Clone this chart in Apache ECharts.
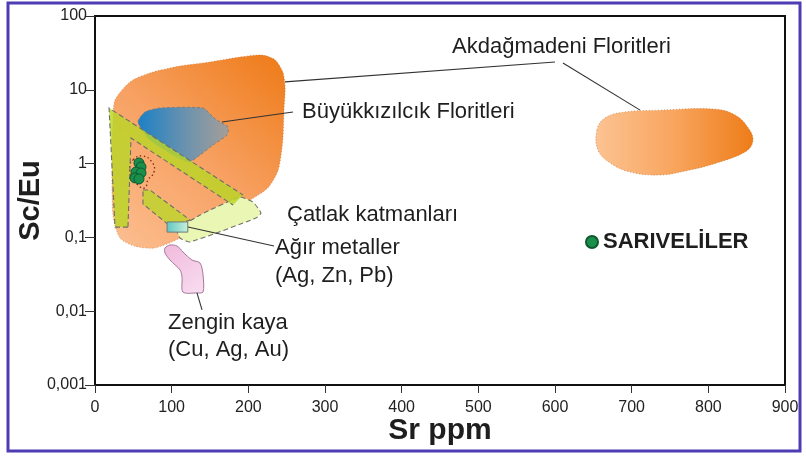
<!DOCTYPE html>
<html>
<head>
<meta charset="utf-8">
<script src="https://cdn.jsdelivr.net/npm/echarts@6/dist/echarts.min.js"></script>
<style>
  html, body { margin: 0; padding: 0; background: #ffffff; }
  #chart { width: 806px; height: 457px; }
</style>
</head>
<body>
<div id="chart"></div>
<script>
// Axis ticks
const xTicks = [0, 100, 200, 300, 400, 500, 600, 700, 800, 900];
const yTickLabels = ['0,001', '0,01', '0,1', '1', '10', '100'];

// Akdağmadeni fluorite fields (Sr ppm, Sc/Eu)
const akdagmadeniLow = [[26.1,7.27],[45.7,12.8],[71.7,16.9],[110.9,21.0],[150,23.8],[189,27.8],[218,29.6],[235,25.4],[245,17.4],[248,10.6],[246.5,5.3],[245,2.09],[239,0.82],[225.6,0.47],[202,0.32],[176,0.235],[143.5,0.162],[111,0.098],[78,0.072],[52,0.076],[32.6,0.098],[23.5,0.20],[22.2,1.12],[23.5,3.9]];
const akdagmadeniHigh = [[654.7,2.85],[665,4.15],[691,5.0],[737,5.3],[806,5.5],[835,4.56],[854,2.85],[858,1.96],[848,1.44],[811,1.02],[776,0.82],[737,0.70],[698,0.77],[672,1.02],[656,1.53]];

// Büyükkızılcık fluorite field
const buyukkizilcik = [[56.1,3.66],[65.2,5.0],[84.8,5.66],[140.9,5.66],[153.9,4.28],[163,3.66],[173.5,3.13],[172.2,2.44],[153.9,1.79],[137,1.31],[121.3,1.05],[71.7,2.09]];

// Fracture-fill fields (Çatlak katmanları)
const catlakChevron = [[26.1,0.138],[18.3,5.66],[193,0.376],[180,0.275],[47,2.22],[43,0.138]];
const catlakChevronOuter = [[43,0.138],[26.1,0.138],[18.3,5.66],[193,0.376]];
const catlakChevronInner = [[43,0.138],[47,2.22],[180,0.275]];
const catlakBand = [[62.6,0.438],[71.7,0.438],[123.9,0.172],[97.8,0.143],[62.6,0.284]];
const catlakPale = [[107,0.126],[137,0.201],[189,0.352],[206,0.302],[216.5,0.214],[210,0.183],[124,0.0867],[111,0.098]];

// Heavy metals box and rich-ore field
const agirMetaller = [[94,0.162],[121,0.162],[121,0.118],[94,0.118]];
const zenginKaya = [[91.3,0.0718],[97.8,0.0789],[107,0.0764],[114.8,0.0634],[126.5,0.0494],[137,0.045],[140.9,0.031],[140.9,0.0182],[133,0.0177],[114.8,0.0182],[113.5,0.029],[111,0.0361],[97.8,0.0494],[91.3,0.0615]];

// Sarıveliler samples and their envelope
const sariveliler = [[57.4,1.02],[60,0.90],[53.5,0.77],[60,0.746],[52.2,0.64],[57.4,0.62]];
const sarivelilerHalo = [[49.6,1.12],[61.3,1.27],[74.3,1.05],[77,0.77],[69.1,0.60],[65.2,0.47],[56.1,0.51],[47,0.70],[45.7,0.96]];

// Leader lines from fields to their captions
const leaders = [
  [[247.8,12.8],[600,23.8]],
  [[610.4,23.1],[711,5.3]],
  [[165.6,3.66],[258.3,5.0]],
  [[121.3,0.138],[233.5,0.0764]],
  [[133,0.0177],[139.6,0.0104]]
];

const FONT = "'Liberation Sans', Arial, sans-serif";
const G = echarts.graphic;

function areaSeries(pts, style, smooth, z) {
  return {
    type: 'custom', coordinateSystem: 'cartesian2d', silent: true, clip: false, z: z || 2,
    data: [pts[0]],
    renderItem: function (params, api) {
      return {
        type: 'polygon',
        shape: { points: pts.map(function (p) { return api.coord(p); }), smooth: smooth || 0 },
        style: style
      };
    }
  };
}
function pathSeries(pts, style, z) {
  return {
    type: 'custom', coordinateSystem: 'cartesian2d', silent: true, clip: false, z: z || 3,
    data: [pts[0]],
    renderItem: function (params, api) {
      return {
        type: 'polyline',
        shape: { points: pts.map(function (p) { return api.coord(p); }) },
        style: style
      };
    }
  };
}

const dashGrey = { stroke: '#6f6f66', lineWidth: 1.1, lineDash: [5, 3], fill: null };
const SAMPLE_NAME = 'SARIVELİLER';

const series = [
  areaSeries(akdagmadeniLow, {
    fill: new G.LinearGradient(0, 1, 1, 0, [
      { offset: 0, color: '#fcbf92' }, { offset: 0.5, color: '#f7a061' }, { offset: 1, color: '#ee7a16' }]),
    stroke: 'rgba(190,110,50,0.6)', lineWidth: 1, lineDash: [1, 2]
  }, 0.25),
  areaSeries(akdagmadeniHigh, {
    fill: new G.LinearGradient(0, 0, 1, 0, [
      { offset: 0, color: '#fcc393' }, { offset: 0.5, color: '#f8a55e' }, { offset: 1, color: '#ee7c18' }]),
    stroke: 'rgba(190,110,50,0.6)', lineWidth: 1, lineDash: [1, 2]
  }, 0.4),
  areaSeries(buyukkizilcik, {
    fill: new G.LinearGradient(0, 0, 1, 0, [
      { offset: 0, color: '#1b80c6' }, { offset: 0.55, color: '#6e93ad' }, { offset: 1, color: '#a59e98' }]),
    stroke: '#7d7d80', lineWidth: 1, lineDash: [3, 2]
  }, 0.2),
  areaSeries(catlakPale, Object.assign({}, dashGrey, { fill: '#eaf6b4' }), 0.15),
  areaSeries(catlakChevron, { fill: 'rgba(186,214,38,0.82)' }, 0),
  pathSeries(catlakChevronOuter, dashGrey),
  pathSeries(catlakChevronInner, dashGrey),
  areaSeries(catlakBand, Object.assign({}, dashGrey, { fill: 'rgba(186,214,38,0.78)' }), 0),
  areaSeries(agirMetaller, {
    fill: new G.LinearGradient(0, 0, 1, 0, [
      { offset: 0, color: '#5fc6c2' }, { offset: 1, color: '#c9f1dc' }]),
    stroke: '#6d7d7a', lineWidth: 1
  }, 0),
  areaSeries(zenginKaya, {
    fill: new G.LinearGradient(0, 0, 1, 1, [
      { offset: 0, color: '#f1b9dc' }, { offset: 1, color: '#f8def0' }]),
    stroke: '#a5789a', lineWidth: 1
  }, 0.3),
  areaSeries(sarivelilerHalo, { fill: null, stroke: '#7a2a12', lineWidth: 1.3, lineDash: [1.5, 2.5] }, 0.5),
  {
    name: SAMPLE_NAME,
    type: 'scatter',
    z: 5,
    symbol: 'circle',
    symbolSize: 10,
    silent: true,
    itemStyle: { color: '#1a8f4c', borderColor: '#0e5a2e', borderWidth: 1, opacity: 1 },
    data: sariveliler
  }
];
leaders.forEach(function (seg) {
  series.push(pathSeries(seg, { stroke: '#333333', lineWidth: 1.1, fill: null }, 4));
});

const captions = [
  { text: 'Akdağmadeni Floritleri', x: 452, y: 47 },
  { text: 'Büyükkızılcık Floritleri', x: 302, y: 112 },
  { text: 'Çatlak katmanları', x: 287, y: 215 },
  { text: 'Ağır metaller', x: 275, y: 248 },
  { text: '(Ag, Zn, Pb)', x: 275, y: 276 },
  { text: 'Zengin kaya', x: 168, y: 323 },
  { text: '(Cu, Ag, Au)', x: 168, y: 350 }
];

const graphic = [{
  type: 'rect', silent: true, z: 100,
  shape: { x: 8, y: 3, width: 792, height: 448 },
  style: { fill: null, stroke: '#4d3cb4', lineWidth: 3 }
}].concat(captions.map(function (c) {
  return {
    type: 'text', silent: true, z: 50, x: c.x, y: c.y,
    style: { text: c.text, font: '22px ' + FONT, fill: '#1e1e1e', textAlign: 'left', textVerticalAlign: 'middle' }
  };
}));

const chart = echarts.init(document.getElementById('chart'));
chart.setOption({
  animation: false,
  backgroundColor: '#ffffff',
  grid: {
    left: 95, right: 21, top: 16, bottom: 72,
    outerBoundsMode: 'none', containLabel: false,
    show: true, borderColor: '#111', borderWidth: 2, backgroundColor: 'transparent'
  },
  legend: {
    data: [{ name: SAMPLE_NAME, icon: 'circle' }],
    left: 585, top: 231, padding: 0,
    itemWidth: 12, itemHeight: 12, selectedMode: false,
    textStyle: { fontSize: 22, fontWeight: 'bold', color: '#1e1e1e', fontFamily: FONT }
  },
  xAxis: {
    type: 'value', min: xTicks[0], max: xTicks[xTicks.length - 1], interval: 100,
    name: 'Sr ppm', nameLocation: 'middle', nameGap: 31, nameMoveOverlap: false,
    nameTextStyle: { fontSize: 30, fontWeight: 'bold', color: '#1e1e1e', fontFamily: FONT },
    axisLine: { lineStyle: { color: '#111', width: 2 } },
    axisTick: { length: 8, lineStyle: { color: '#333', width: 1 } },
    axisLabel: { margin: 15, fontSize: 16, color: '#222', fontFamily: FONT },
    splitLine: { show: false }
  },
  yAxis: {
    type: 'log', logBase: 10, min: 0.001, max: 100,
    name: 'Sc/Eu', nameLocation: 'middle', nameGap: 50, nameMoveOverlap: false,
    nameTextStyle: { fontSize: 29, fontWeight: 'bold', color: '#1e1e1e', fontFamily: FONT },
    axisLine: { lineStyle: { color: '#111', width: 2 } },
    axisTick: { length: 10, lineStyle: { color: '#333', width: 1 } },
    axisLabel: {
      margin: 8, fontSize: 16, color: '#222', fontFamily: FONT,
      formatter: function (v) { return yTickLabels[Math.round(Math.log10(v)) + 3]; }
    },
    minorTick: { show: false },
    splitLine: { show: false }
  },
  graphic: graphic,
  series: series
});
</script>
</body>
</html>
